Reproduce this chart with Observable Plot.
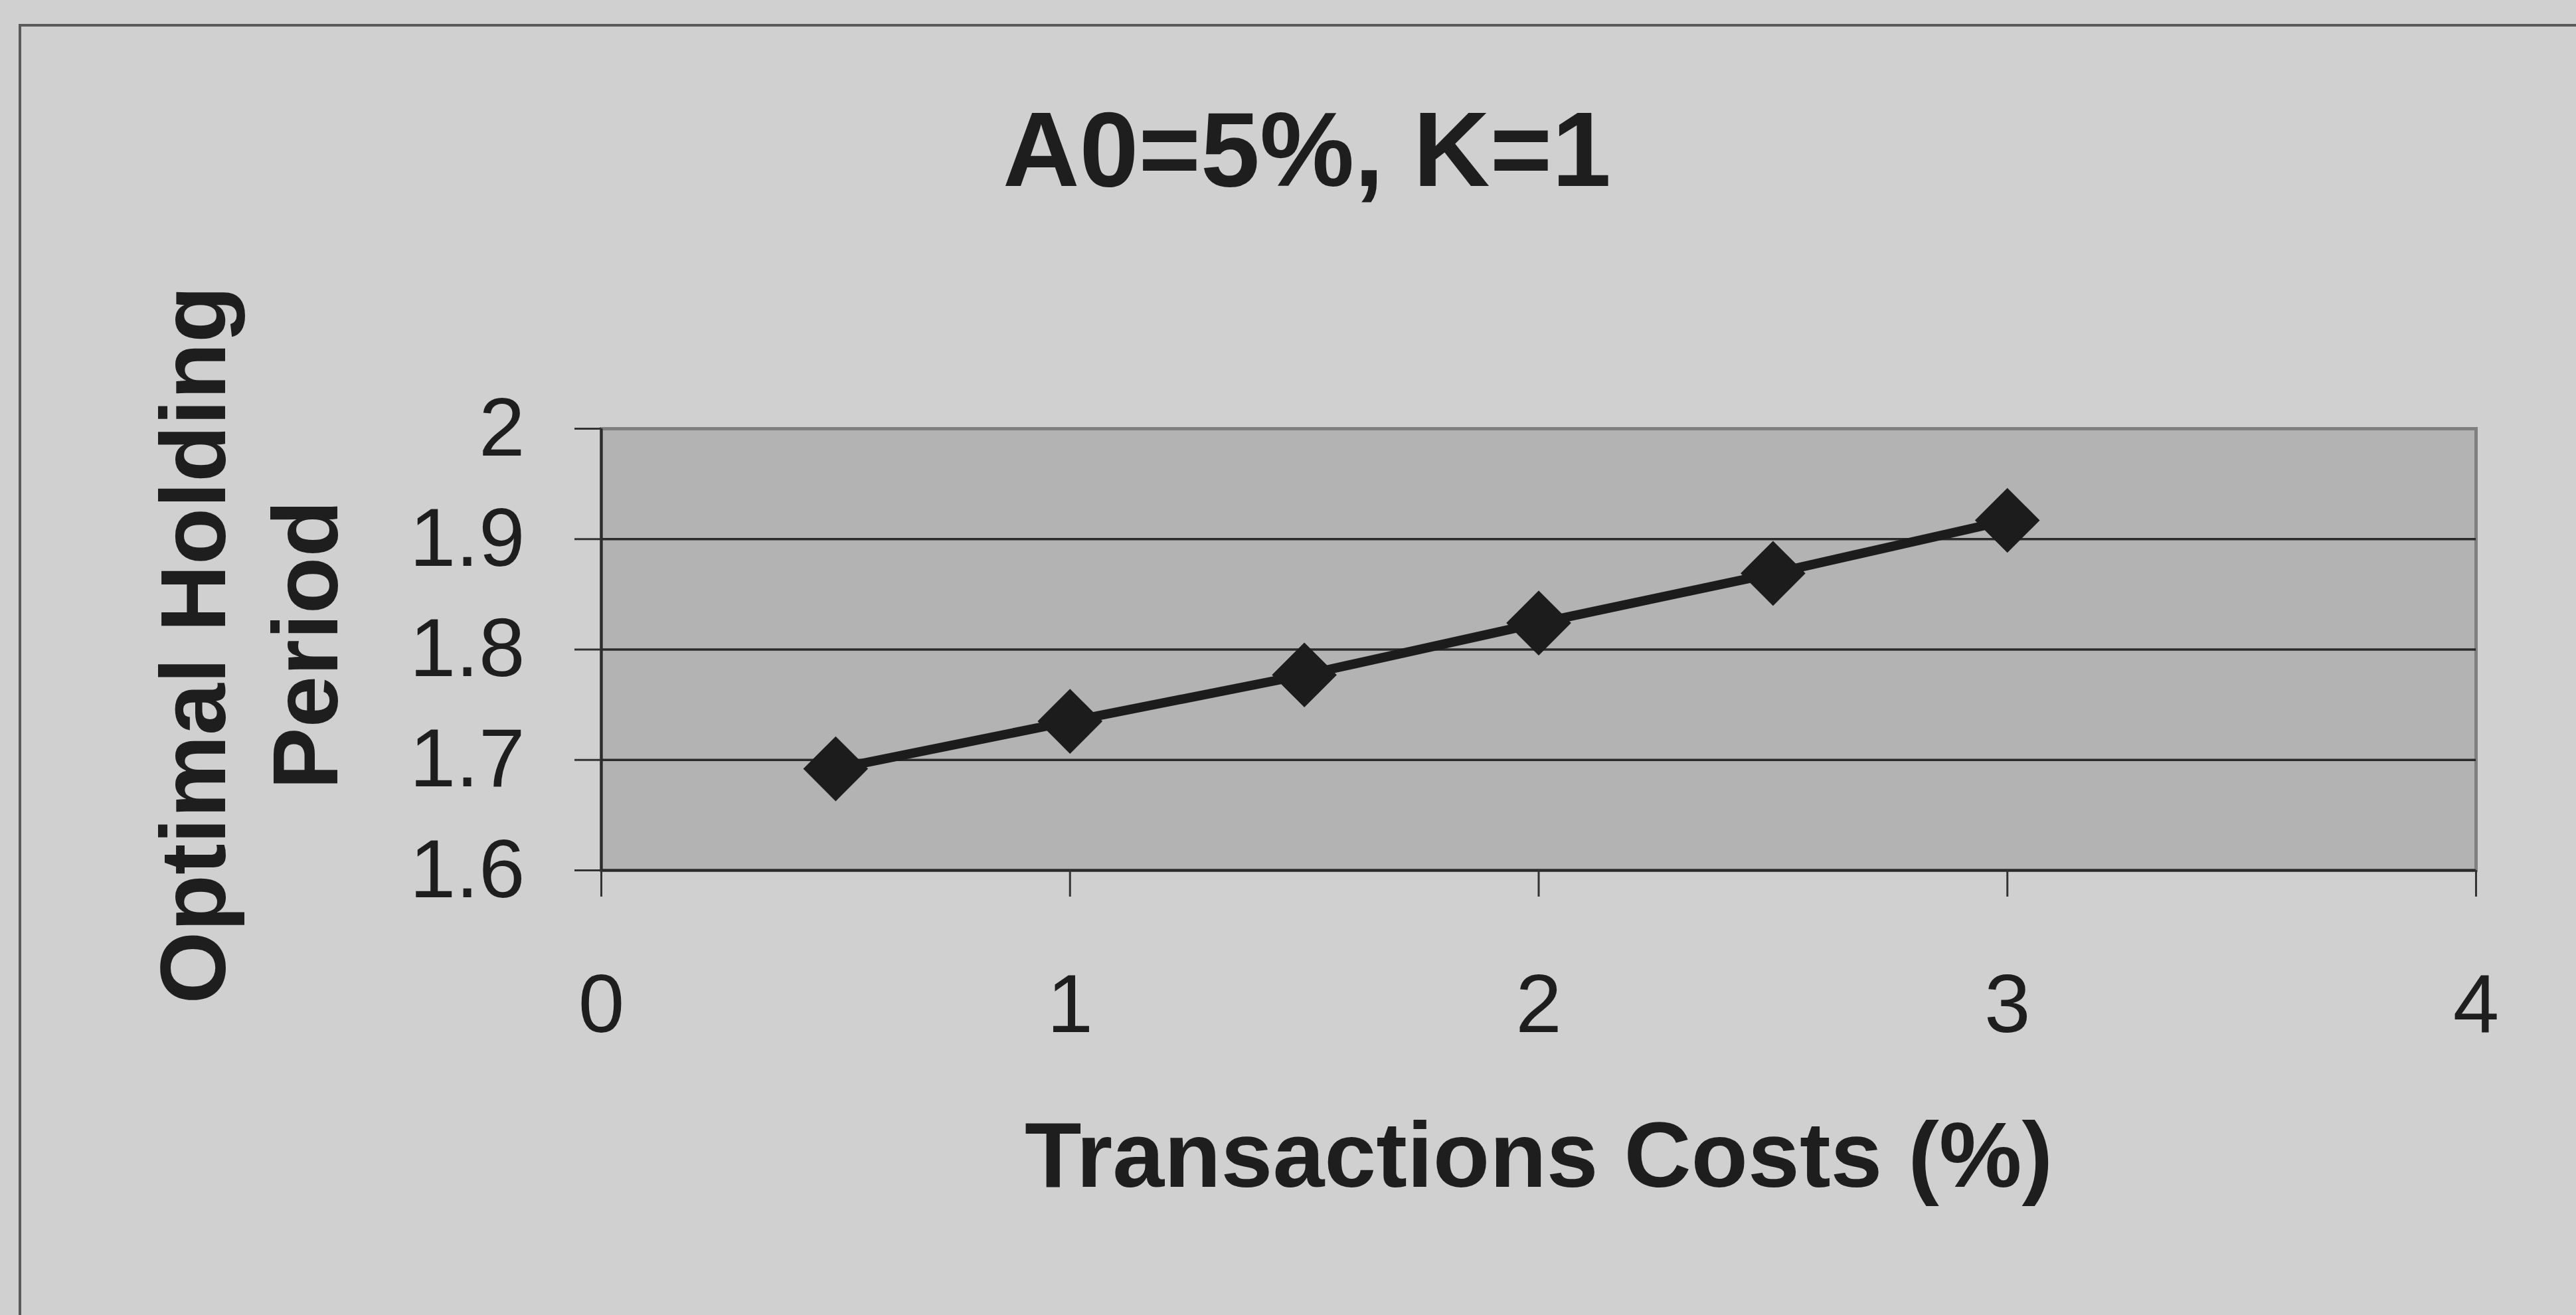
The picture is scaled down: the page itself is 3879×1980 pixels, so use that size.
<!DOCTYPE html>
<html>
<head>
<meta charset="utf-8">
<script src="https://cdn.jsdelivr.net/npm/d3@7"></script>
<script src="https://cdn.jsdelivr.net/npm/@observablehq/plot@0.6"></script>
<style>
  html, body { margin: 0; padding: 0; background: #cfcfcf; }
  #wrap { position: relative; width: 3879px; height: 1980px; overflow: hidden; background: #d0d0d0; }
  #border { position: absolute; left: 28px; top: 36px; width: 3900px; height: 2000px;
            border-left: 4px solid #5a5a5a; border-top: 4px solid #5a5a5a; box-sizing: border-box; }
  #title { position: relative; height: 400px; box-sizing: border-box; }
  #title span { position: absolute; left: 1968px; top: 145px; transform: translateX(-50%);
                font-family: "Liberation Sans", Arial, sans-serif; font-weight: bold;
                font-size: 160px; line-height: 160px; color: #1e1e1e; white-space: nowrap; }
  #chart { position: relative; }
</style>
</head>
<body>
<div id="wrap">
  <div id="border"></div>
  <div id="title"><span id="titleText"></span></div>
  <div id="chart"></div>
</div>
<script>
// ---- data ----
const titleText = "A0=5%, K=1";
const xLabel = "Transactions Costs (%)";
const yLabel = "Optimal Holding\nPeriod";
const transactionCosts = [0.5, 1, 1.5, 2, 2.5, 3];
const holdingPeriod = [1.692, 1.735, 1.777, 1.824, 1.869, 1.917];
const xTicks = [0, 1, 2, 3, 4];
const yTicks = [1.6, 1.7, 1.8, 1.9, 2];
const gridValues = [1.7, 1.8, 1.9];

const data = transactionCosts.map((x, i) => ({x, y: holdingPeriod[i]}));

document.getElementById("titleText").textContent = titleText;

const ink = "#1e1e1e";
const chart = Plot.plot({
  width: 3879,
  height: 1580,
  marginLeft: 905,
  marginRight: 151,
  marginTop: 245,
  marginBottom: 670,
  style: {background: "transparent", fontFamily: "'Liberation Sans', Arial, sans-serif", color: ink},
  x: {domain: [0, 4]},
  y: {domain: [1.6, 2]},
  marks: [
    Plot.frame({fill: "#b3b3b3", stroke: "#808080", strokeWidth: 5}),
    Plot.ruleY(gridValues, {stroke: "#2a2a2a", strokeWidth: 3.5}),
    Plot.ruleY([1.6], {stroke: "#2a2a2a", strokeWidth: 4}),
    Plot.ruleX([0], {stroke: "#2a2a2a", strokeWidth: 4}),
    Plot.axisX({ticks: xTicks, tickSize: 40, tickPadding: 115, fontSize: 125, stroke: "#333", strokeWidth: 3, label: null, tickFormat: d => String(d)}),
    Plot.axisY({ticks: yTicks, tickSize: 40, tickPadding: 75, fontSize: 125, stroke: "#333", strokeWidth: 3, label: null, tickFormat: d => String(d)}),
    Plot.line(data, {x: "x", y: "y", stroke: "#1c1c1c", strokeWidth: 14, strokeLinejoin: "round"}),
    Plot.dot(data, {x: "x", y: "y", symbol: "diamond2", r: 44, fill: "#1c1c1c", stroke: "none"}),
    Plot.text([xLabel], {frameAnchor: "bottom", dy: 432, fontSize: 140, fontWeight: "bold", lineAnchor: "middle", textAnchor: "middle", fill: ink}),
    Plot.text([yLabel], {frameAnchor: "left", dx: -536, dy: -7, rotate: -90, fontSize: 140, fontWeight: "bold", lineAnchor: "middle", textAnchor: "middle", lineHeight: 1.21, fill: ink})
  ]
});
document.getElementById("chart").appendChild(chart);
</script>
</body>
</html>
